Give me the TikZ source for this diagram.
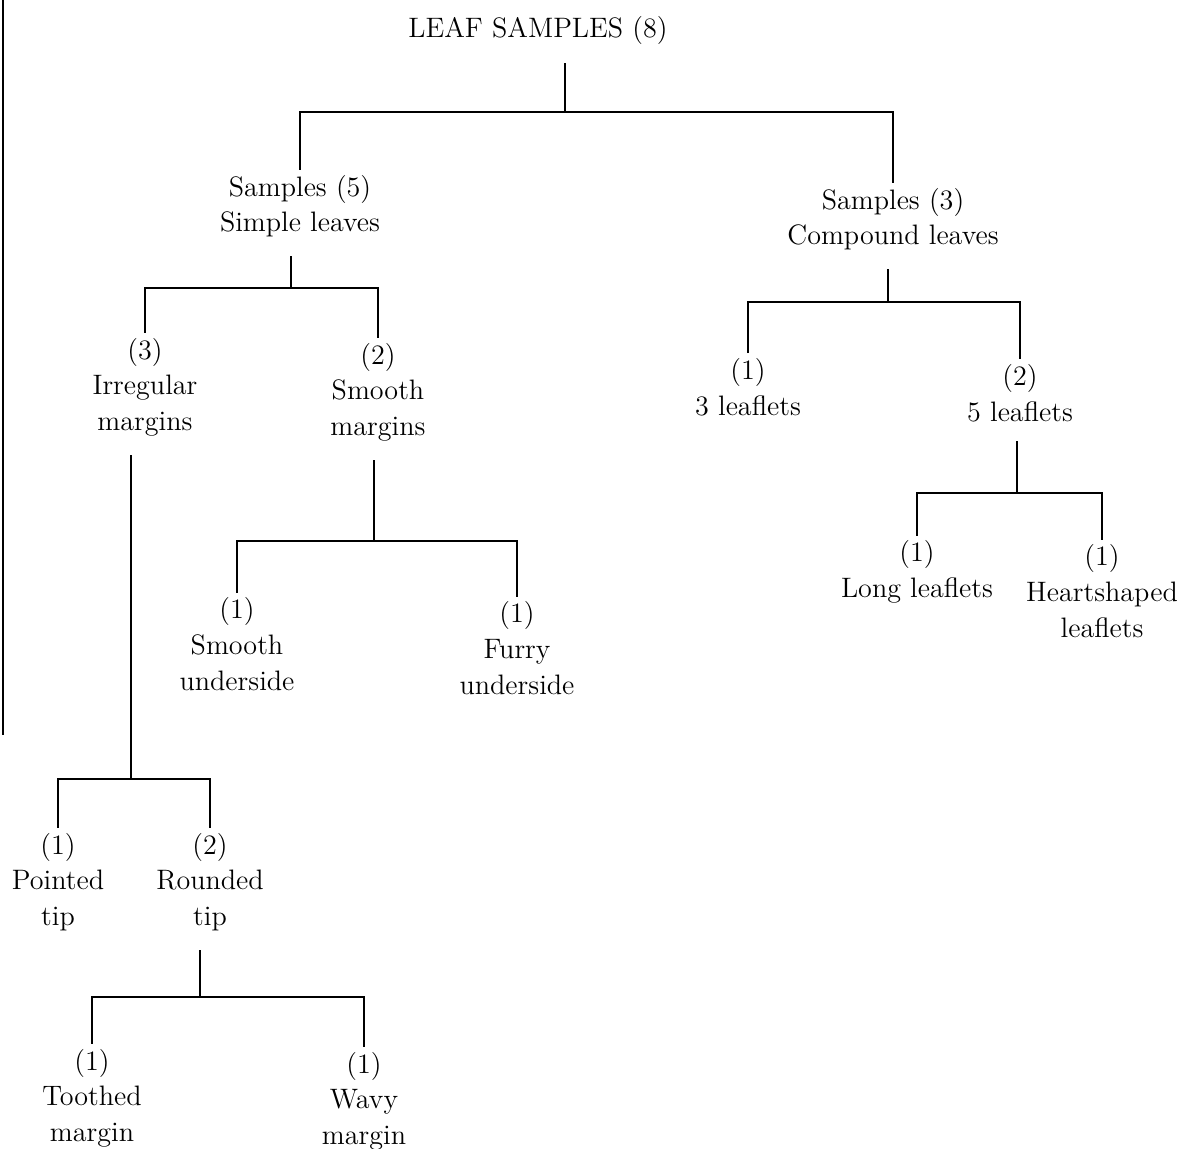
\documentclass[tikz,border=0pt]{standalone}
\usepackage{tikz}

\begin{document}
\begin{tikzpicture}[x=0.015cm, y=-0.015cm,
		every node/.style={align=center, inner sep=2pt, font=\fontsize{12}{15.2}\selectfont},
		link/.style={line width=0.8pt},
		stem/.style={line width=0.8pt, shorten >=6pt}]
	\useasboundingbox (0,0) rectangle (1191,1149);
	\draw [line width=1.2pt] (3,0) -- (3,735);
	% the samples
	\node (root) at (538,30) {LEAF SAMPLES (8)};
	\node (simple) at (300,206) {Samples (5)\\Simple leaves};
	\node (compound) at (893,219) {Samples (3)\\Compound leaves};
	\node (irregular) at (145,387) {(3)\\Irregular\\margins};
	\node (smoothm) at (378,392) {(2)\\Smooth\\margins};
	\node (three) at (748,387) {(1)\\3 leaflets};
	\node (five) at (1020,393) {(2)\\5 leaflets};
	\node (long) at (917,572) {(1)\\Long leaflets};
	\node (heart) at (1102,591) {(1)\\Heartshaped\\leaflets};
	\node (smoothu) at (237,644) {(1)\\Smooth\\underside};
	\node (furry) at (517,648) {(1)\\Furry\\underside};
	\node (pointed) at (58,882) {(1)\\Pointed\\tip};
	\node (rounded) at (210,882) {(2)\\Rounded\\tip};
	\node (toothed) at (92,1098) {(1)\\Toothed\\margin};
	\node (wavy) at (364,1101) {(1)\\Wavy\\margin};
	% splits
	\coordinate (j0) at (565,112);
	\coordinate (j1) at (291,288);
	\coordinate (j2) at (888,302);
	\coordinate (j3) at (374,541);
	\coordinate (j4) at (131,779);
	\coordinate (j5) at (1017,493);
	\coordinate (j6) at (200,997);
	\draw [stem] (j0) -- (j0 |- root.south);
	\draw [link] (simple.north) |- (j0) -| (compound.north);
	\draw [stem] (j1) -- (j1 |- simple.south);
	\draw [link] (irregular.north) |- (j1) -| (smoothm.north);
	\draw [stem] (j2) -- (j2 |- compound.south);
	\draw [link] (three.north) |- (j2) -| (five.north);
	\draw [stem] (j3) -- (j3 |- smoothm.south);
	\draw [link] (smoothu.north) |- (j3) -| (furry.north);
	\draw [stem] (j4) -- (j4 |- irregular.south);
	\draw [link] (pointed.north) |- (j4) -| (rounded.north);
	\draw [stem] (j5) -- (j5 |- five.south);
	\draw [link] (long.north) |- (j5) -| (heart.north);
	\draw [stem] (j6) -- (j6 |- rounded.south);
	\draw [link] (toothed.north) |- (j6) -| (wavy.north);
\end{tikzpicture}
\end{document}
